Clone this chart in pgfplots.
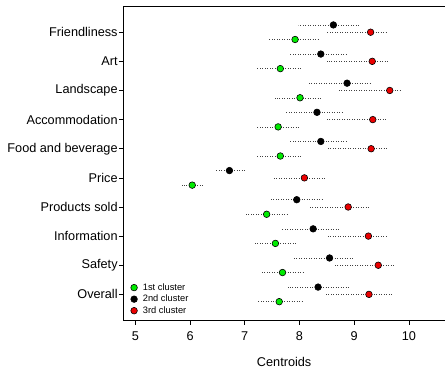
\documentclass[border=0pt]{standalone}
\usepackage{pgfplots}
\pgfplotsset{compat=1.18}
\usepackage{pgfplotstable}
\usepackage{fontspec}
\setmainfont{Liberation Sans}
\definecolor{rgreen}{RGB}{0,235,0}
\definecolor{rred}{RGB}{235,0,0}

% y  x  lo  hi   (y: 1=Overall ... 10=Friendliness)
\pgfplotstableread{
y x lo hi
0.75 7.63 7.24 8.05
1.75 7.69 7.28 8.09
2.75 7.56 7.15 7.96
3.75 7.40 7.02 7.77
4.75 6.04 5.85 6.24
5.75 7.65 7.22 8.04
6.75 7.61 7.21 8.02
7.75 8.01 7.55 8.42
8.75 7.65 7.22 8.04
9.75 7.92 7.42 8.36
}\greendata
\pgfplotstableread{
y x lo hi
1.25 8.34 7.79 8.91
2.25 8.55 7.88 9.00
3.25 8.25 7.68 8.73
4.25 7.95 7.48 8.42
5.25 6.72 6.46 7.02
6.25 8.39 7.81 8.85
7.25 8.32 7.76 8.80
8.25 8.87 8.18 9.29
9.25 8.39 7.81 8.88
10.25 8.62 7.98 9.08
}\blackdata
\pgfplotstableread{
y x lo hi
1 9.27 8.45 9.69
2 9.44 8.62 9.72
3 9.26 8.49 9.60
4 8.89 8.18 9.29
5 8.09 7.54 8.48
6 9.31 8.49 9.60
7 9.34 8.50 9.61
8 9.65 8.72 9.84
9 9.33 8.50 9.61
10 9.30 8.50 9.60
}\reddata

\begin{document}
\begin{tikzpicture}
\begin{axis}[
  name=ax,
  scale only axis, width=321.7pt, height=314pt,
  xmin=4.78, xmax=10.66, ymin=0.12, ymax=10.9,
  axis x line*=bottom, axis y line*=left,
  axis line style={line width=0.8pt, black},
  xtick={5,6,7,8,9,10},
  ytick={1,2,3,4,5,6,7,8,9,10},
  yticklabels={Overall,Safety,Information,Products sold,Price,Food and beverage,Accommodation,Landscape,Art,Friendliness},
  tick align=outside, major tick length=4.5pt,
  tick style={line width=0.6pt, black},
  /pgf/number format/assume math mode=true,
  tick label style={font=\fontsize{12.7}{15}\selectfont},
  yticklabel style={inner xsep=1pt},
  xticklabel style={yshift=-4pt},
  xlabel={Centroids},
  xlabel style={font=\fontsize{12.7}{15}\selectfont, inner sep=0pt, text depth=0pt, yshift=-12.5pt},
  error bars/error bar style={line width=0.5pt, color=black!75, dash pattern=on 0.8pt off 1.7pt},
  error bars/error mark=none,
  legend style={at={(rel axis cs:0,0)}, anchor=south west, draw=none, fill=none,
    font=\fontsize{9.3}{10.5}\selectfont, row sep=-0.7pt, xshift=4.3pt, yshift=1pt,
    /tikz/every odd column/.append style={column sep=3.5pt}},
  legend cell align=left,
  legend image code/.code={\draw[#1] plot coordinates {(0.12cm,0cm)};},
]
\addplot[only marks, mark=*, mark size=3.3pt, mark options={draw=black, fill=rgreen, line width=0.6pt},
  error bars/.cd, x dir=both, x explicit]
  table[x=x, y=y, x error plus expr=\thisrow{hi}-\thisrow{x}, x error minus expr=\thisrow{x}-\thisrow{lo}] {\greendata};
\addplot[only marks, mark=*, mark size=3.3pt, mark options={draw=black, fill=black, line width=0.6pt},
  error bars/.cd, x dir=both, x explicit]
  table[x=x, y=y, x error plus expr=\thisrow{hi}-\thisrow{x}, x error minus expr=\thisrow{x}-\thisrow{lo}] {\blackdata};
\addplot[only marks, mark=*, mark size=3.3pt, mark options={draw=black, fill=rred, line width=0.6pt},
  error bars/.cd, x dir=both, x explicit]
  table[x=x, y=y, x error plus expr=\thisrow{hi}-\thisrow{x}, x error minus expr=\thisrow{x}-\thisrow{lo}] {\reddata};
\legend{}
\addlegendimage{only marks, mark=*, mark size=1.9pt, mark options={draw=black, fill=rgreen, line width=0.5pt}}
\addlegendentry{1st cluster}
\addlegendimage{only marks, mark=*, mark size=1.9pt, mark options={draw=black, fill=black, line width=0.5pt}}
\addlegendentry{2nd cluster}
\addlegendimage{only marks, mark=*, mark size=1.9pt, mark options={draw=black, fill=rred, line width=0.5pt}}
\addlegendentry{3rd cluster}
\draw[line width=0.8pt, black] (rel axis cs:0,1) -- (rel axis cs:1,1);
\end{axis}
\pgfresetboundingbox
\path (ax.south west) ++(-123.3pt,-47pt) rectangle ([yshift=6pt]ax.north east);
\end{tikzpicture}
\end{document}
